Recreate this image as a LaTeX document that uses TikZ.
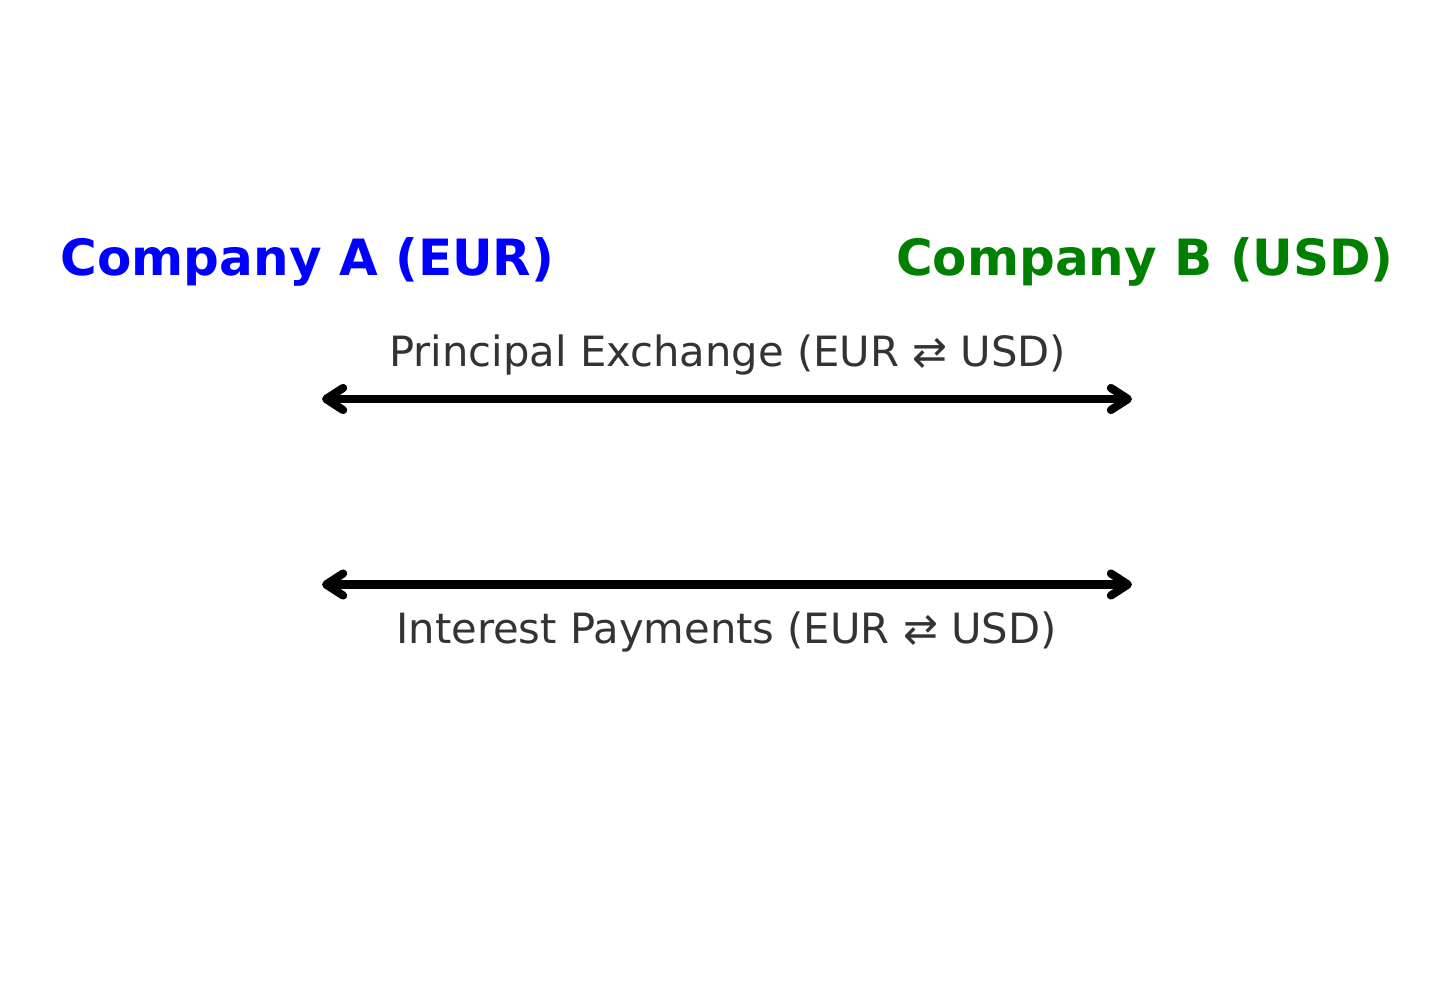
\documentclass[tikz,border=0pt]{standalone}
\usepackage{fontspec}
\setmainfont{DejaVu Sans}
\usetikzlibrary{arrows.meta}
\definecolor{labelgray}{HTML}{333333}
\definecolor{compgreen}{RGB}{0,128,0}
\begin{document}
\begin{tikzpicture}[x=1pt,y=-1pt,
  title/.style={font=\fontsize{50}{60}\selectfont\bfseries, anchor=base, inner sep=0pt},
  flowlabel/.style={font=\fontsize{41.7}{50}\selectfont, text=labelgray, anchor=base, inner sep=0pt},
  swap/.style={line width=8.2pt, line cap=round,
    {Straight Barb[length=17pt,width=22pt,line cap=round,line join=round]}-{Straight Barb[length=17pt,width=22pt,line cap=round,line join=round]}}]
\useasboundingbox (0,0) rectangle (1455,984);
\node[title, text=blue] (compA) at (307.5,275) {Company A (EUR)};
\node[title, text=compgreen] (compB) at (1145,275) {Company B (USD)};
\node[flowlabel] (lblP) at (727.5,366) {Principal Exchange (EUR ⇄ USD)};
\node[flowlabel] (lblI) at (726.5,643) {Interest Payments (EUR ⇄ USD)};
\coordinate (p1) at (322,399);
\coordinate (p2) at (1132,399);
\coordinate (i1) at (322,584.5);
\coordinate (i2) at (1132,584.5);
\draw[swap] (p1) -- (p2);
\draw[swap] (i1) -- (i2);
\end{tikzpicture}
\end{document}
